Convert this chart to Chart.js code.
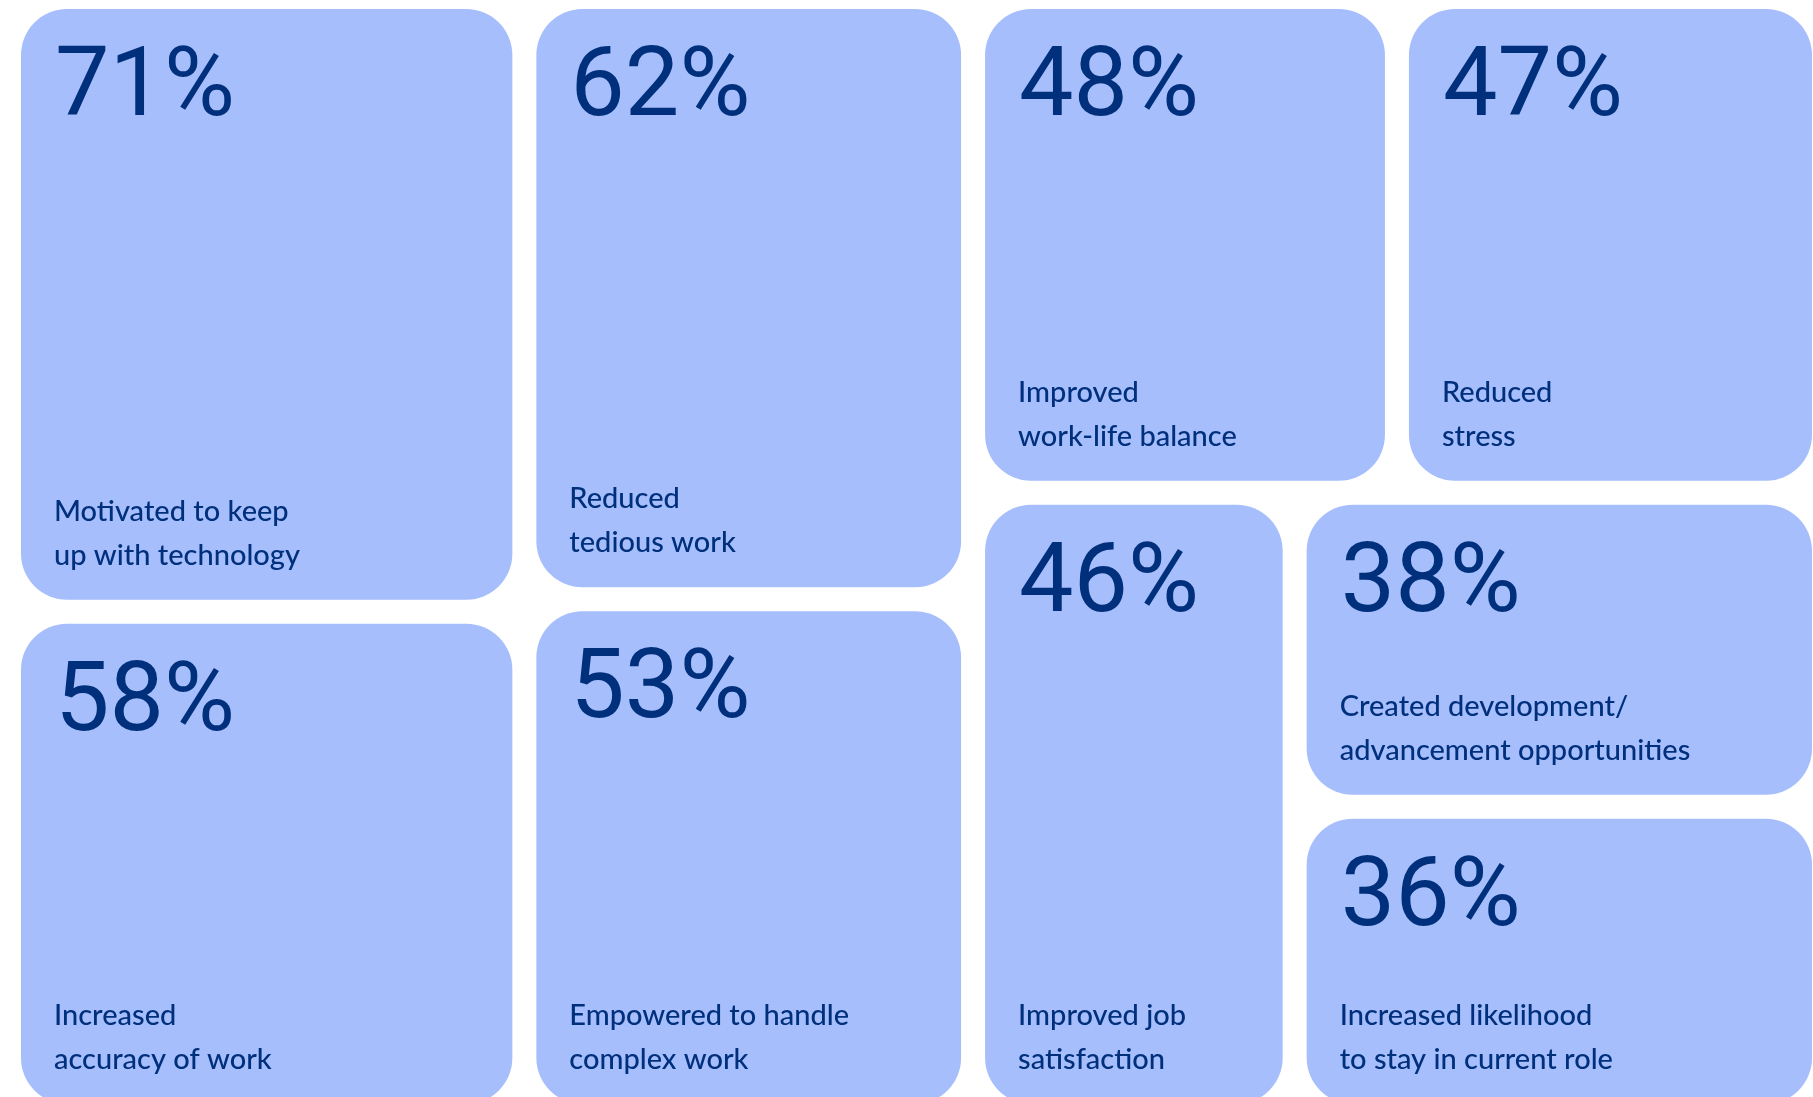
<!DOCTYPE html>
<html>
<head>
<meta charset="utf-8">
<script src="https://cdn.jsdelivr.net/npm/chart.js@4.4.1/dist/chart.umd.min.js"></script>
<style>
  html, body { margin: 0; padding: 0; background: #ffffff; overflow: hidden; }
  #wrap { position: relative; width: 1813px; height: 1104px; }
</style>
</head>
<body>
<div id="wrap"><canvas id="c"></canvas></div>
<script>
// Survey answers: share of respondents per benefit
const categories = [
  ['Motivated to keep', 'up with technology'],
  ['Reduced', 'tedious work'],
  ['Increased', 'accuracy of work'],
  ['Empowered to handle', 'complex work'],
  ['Improved', 'work-life balance'],
  ['Reduced', 'stress'],
  ['Improved job', 'satisfaction'],
  ['Created development/', 'advancement opportunities'],
  ['Increased likelihood', 'to stay in current role']
];
const values = [71, 62, 58, 53, 48, 47, 46, 38, 36];
const valueLabels = values.map(v => v + '%');

// Nesting of the treemap: 'h' places children side by side, 'v' stacks them.
// Leaves are indexes into the arrays above; sizes come from the values.
const groups = { split: 'h', items: [
  { split: 'v', items: [0, 2] },
  { split: 'v', items: [1, 3] },
  { split: 'v', items: [
    { split: 'h', items: [4, 5] },
    { split: 'h', items: [6, { split: 'v', items: [7, 8] }] }
  ]}
]};

const TILE = '#a7befd';
const INK = '#00307c';
const HALF_GAP = 12;
const RADIUS = 46;

function nodeSum(n) {
  return typeof n === 'number' ? values[n] : n.items.reduce((s, c) => s + nodeSum(c), 0);
}

// Slice-and-dice layout in data units (x: 0..total, y: 0..1)
function layout(n, x0, x1, y0, y1, out) {
  if (typeof n === 'number') { out.push({ i: n, x0, x1, y0, y1 }); return out; }
  const total = nodeSum(n);
  let acc = 0;
  n.items.forEach(c => {
    const a = acc / total, b = (acc + nodeSum(c)) / total;
    acc += nodeSum(c);
    if (n.split === 'h') layout(c, x0 + (x1 - x0) * a, x0 + (x1 - x0) * b, y0, y1, out);
    else layout(c, x0, x1, y0 + (y1 - y0) * a, y0 + (y1 - y0) * b, out);
  });
  return out;
}

const grandTotal = nodeSum(groups);
const cells = layout(groups, 0, grandTotal, 0, 1, []);

const treemapTiles = {
  id: 'treemapTiles',
  beforeDatasetsDraw(chart) {
    const { ctx, scales: { x, y } } = chart;
    const eps = 1e-9;
    ctx.save();
    cells.forEach(c => {
      let l = x.getPixelForValue(c.x0), r = x.getPixelForValue(c.x1);
      let t = y.getPixelForValue(c.y0), b = y.getPixelForValue(c.y1);
      if (c.x0 > x.min + eps) l += HALF_GAP;
      if (c.x1 < x.max - eps) r -= HALF_GAP;
      if (c.y0 > y.min + eps) t += HALF_GAP;
      if (c.y1 < y.max - eps) b -= HALF_GAP;

      ctx.fillStyle = TILE;
      ctx.beginPath();
      ctx.roundRect(l, t, r - l, b - t, RADIUS);
      ctx.fill();

      ctx.fillStyle = INK;
      ctx.textAlign = 'left';
      ctx.textBaseline = 'alphabetic';
      ctx.font = '400 97px Roboto, sans-serif';
      ctx.fillText(valueLabels[c.i], l + 34, t + 106);

      ctx.font = '500 29px Lato, sans-serif';
      const lines = categories[c.i];
      lines.forEach((line, k) => {
        ctx.fillText(line, l + 33, b - 35 - (lines.length - 1 - k) * 44);
      });
    });
    ctx.restore();
  }
};

new Chart(document.getElementById('c'), {
  type: 'scatter',
  data: { datasets: [{ data: [], pointRadius: 0 }] },
  options: {
    responsive: true,
    maintainAspectRatio: false,
    animation: false,
    events: [],
    layout: { padding: { left: 21, right: 1, top: 9, bottom: 0 } },
    plugins: { legend: { display: false }, tooltip: { enabled: false } },
    scales: {
      x: { type: 'linear', min: 0, max: grandTotal, display: false },
      y: { type: 'linear', min: 0, max: 1, reverse: true, display: false }
    }
  },
  plugins: [treemapTiles]
});
</script>
</body>
</html>
